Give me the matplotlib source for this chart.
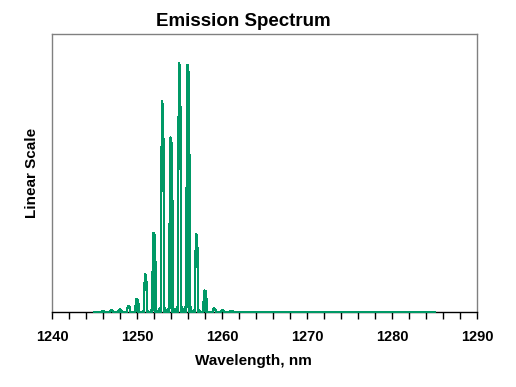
import numpy as np
import matplotlib.pyplot as plt
from matplotlib.ticker import MultipleLocator

# Fabry-Perot mode positions (nm) and peak heights (relative)
mode_nm = [1246.0, 1247.0, 1248.0, 1249.0, 1250.0, 1251.0, 1252.0, 1253.0,
           1254.0, 1255.0, 1256.0, 1257.0, 1258.0, 1259.1, 1260.1, 1261.1]
mode_height = [0.004, 0.006, 0.010, 0.025, 0.052, 0.150, 0.318, 0.845,
               0.700, 1.000, 0.992, 0.313, 0.086, 0.014, 0.006, 0.003]

# sampled shape of one mode (offset in nm, fraction of peak height)
shape_offset = [-0.42, -0.3, -0.2, -0.18, -0.05, 0.05, 0.16, 0.18, 0.28, 0.42]
shape_frac = [0.0, 0.02, 0.0, 0.38, 1.0, 0.97, 0.62, 0.0, 0.02, 0.0]

span_start = 1245.0
span_end = 1285.0

green = '#009966'
plt.rcParams['font.family'] = ['Liberation Sans', 'DejaVu Sans']

# build the trace mode by mode
wl = [span_start]
level = [0.0]
for c, h in zip(mode_nm, mode_height):
    for dx, f in zip(shape_offset, shape_frac):
        wl.append(c + dx)
        level.append(h * f)
wl.append(span_end)
level.append(0.0)

fig = plt.figure(figsize=(5.16, 3.87), dpi=100)
ax = fig.add_axes([52 / 516, 75 / 387, 425 / 516, 278 / 387])

ax.plot(wl, level, color=green, lw=1.0, antialiased=False, clip_on=False, zorder=3)

ax.set_xlim(1240, 1290)
ax.set_ylim(0, 1.116)
ax.xaxis.set_major_locator(MultipleLocator(10))
ax.xaxis.set_minor_locator(MultipleLocator(2))
ax.tick_params(axis='x', which='both', direction='out', length=5, width=1,
               color='black', pad=8)
ax.tick_params(axis='x', labelsize=10.5)
for lab in ax.get_xticklabels():
    lab.set_fontweight('bold')
ax.set_yticks([])

for side in ['top', 'right', 'left']:
    ax.spines[side].set_color('#808080')
    ax.spines[side].set_linewidth(1)
ax.spines['bottom'].set_color('black')
ax.spines['bottom'].set_linewidth(1)

fig.text(253 / 516, 1 - 361 / 387, 'Wavelength, nm', fontsize=11,
         fontweight='bold', ha='center', va='center')
fig.text(32 / 516, 1 - 173 / 387, 'Linear Scale', rotation=90, fontsize=11,
         fontweight='bold', ha='center', va='center')
fig.text(243 / 516, 1 - 22 / 387, 'Emission Spectrum', fontsize=13.5,
         fontweight='bold', ha='center', va='center')

fig.savefig('out.png', dpi=100)
